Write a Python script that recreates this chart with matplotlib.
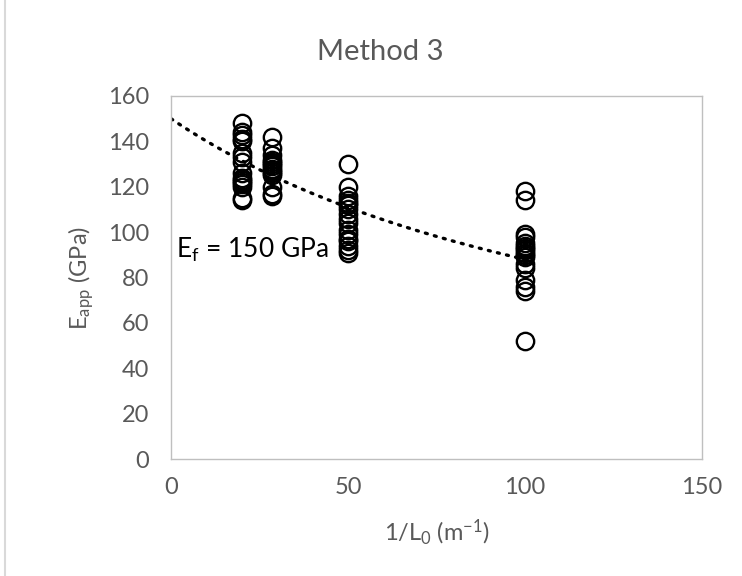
import numpy as np
import matplotlib.pyplot as plt
from matplotlib.lines import Line2D

plt.rcParams['font.family'] = ['Lato', 'DejaVu Sans']
plt.rcParams['mathtext.default'] = 'regular'

# measured apparent modulus (GPa) at each 1/L0 (m^-1)
x_20 = [20] * 16
e_20 = [148, 144, 143, 141, 140, 135, 133, 131, 126, 124, 123, 122, 121, 120, 115, 114]
x_28 = [28.57] * 14
e_28 = [142, 137, 134, 132, 131, 130, 129, 128, 127, 126, 125, 120, 117, 116]
x_50 = [50] * 17
e_50 = [130, 120, 116, 114, 113, 112, 110, 108, 106, 104, 101, 99, 97, 96, 94, 92, 91]
x_100 = [100] * 17
e_100 = [118, 114, 99, 98, 95, 94, 93, 92, 91, 90, 89, 86, 84, 79, 76, 74, 52]

# compliance trendline: 1/E_app = 1/E_f + C * (1/L0)
E_F = 150.0
C_SLOPE = 4.7e-5
fit_x_range = (0, 100)

x_ticks = [0, 50, 100, 150]
y_ticks = [0, 20, 40, 60, 80, 100, 120, 140, 160]

GREY = '#595959'
EDGE = '#BFBFBF'

fig = plt.figure(figsize=(7.42, 5.76), dpi=100)
ax = fig.add_axes([171 / 742, 1 - 459 / 576, (702 - 171) / 742, (459 - 96) / 576])

xs = np.concatenate([x_20, x_28, x_50, x_100])
es = np.concatenate([e_20, e_28, e_50, e_100])
ax.plot(xs, es, linestyle='none', marker='o', markersize=12.5,
        markerfacecolor='none', markeredgecolor='black', markeredgewidth=1.7,
        zorder=3)

fx = np.linspace(*fit_x_range, 200)
fe = 1.0 / (1.0 / E_F + C_SLOPE * fx)
ax.plot(fx, fe, color='black', linewidth=2.4, linestyle=(0, (0.6, 2.2)),
        dash_capstyle='round', zorder=2)

ax.text(1.5, 92, 'E$_f$ = 150 GPa', fontsize=19, color='black', va='center')

ax.set_xlim(0, 150)
ax.set_ylim(0, 160)
ax.set_xticks(x_ticks)
ax.set_yticks(y_ticks)
ax.tick_params(axis='x', length=0, labelsize=17, labelcolor=GREY, pad=13)
ax.tick_params(axis='y', length=0, labelsize=17, labelcolor=GREY, pad=16)
for s in ax.spines.values():
    s.set_color(EDGE)
    s.set_linewidth(1.0)

ax.set_xlabel('1/L$_0$ (m$^{-1}$)', fontsize=17, color=GREY, labelpad=14)
ax.set_ylabel('E$_{app}$ (GPa)', fontsize=17, color=GREY, labelpad=8)
fig.text(380 / 742, 1 - 52 / 576, 'Method 3', fontsize=21, color=GREY,
         ha='center', va='center')

fig.add_artist(Line2D([5 / 742, 5 / 742], [0, 1], color='#D9D9D9', linewidth=1.5))

fig.savefig('out.png', dpi=100)
